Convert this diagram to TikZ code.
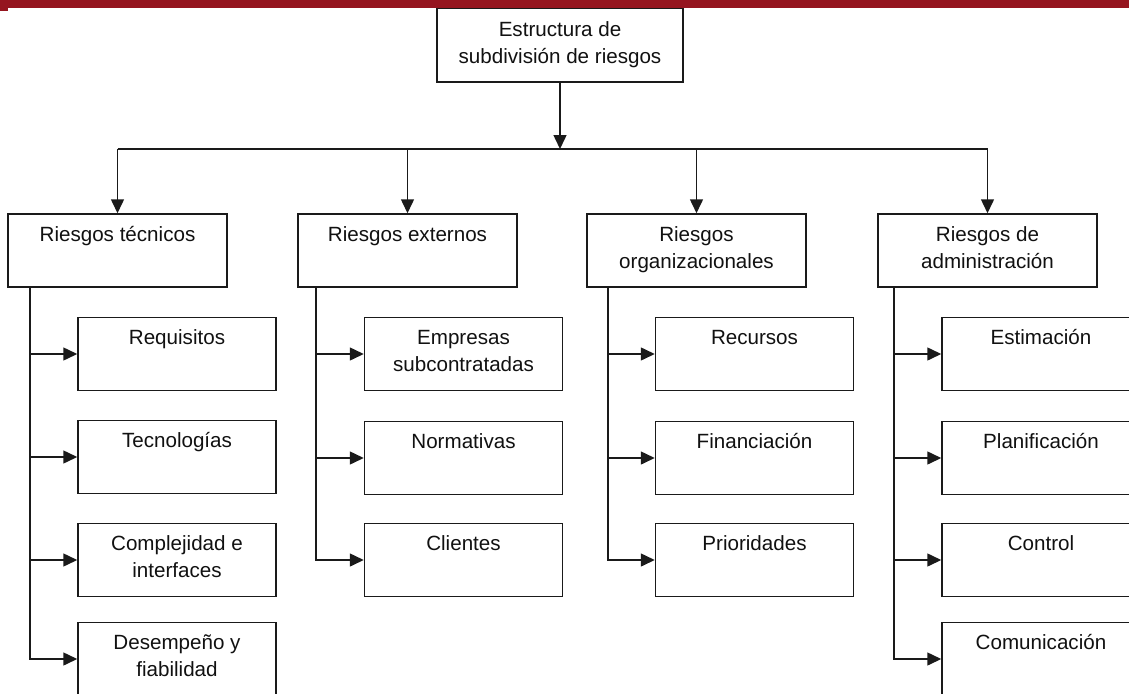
\documentclass[tikz,border=0pt]{standalone}
\usepackage{fontspec}
\setmainfont{Liberation Sans}
\usetikzlibrary{arrows.meta,calc}
\definecolor{band}{HTML}{95151F}
\definecolor{linec}{HTML}{1A1A1A}
\definecolor{txtc}{HTML}{111111}
\newcommand{\ml}[1]{\begin{tabular}[t]{@{}c@{}}#1\end{tabular}}
\begin{document}
\begin{tikzpicture}[x=1pt,y=-1pt,
  box/.style={draw=linec, line width=1.5pt, rectangle, inner sep=0pt, minimum height=73pt},
  lone/.style={box, minimum width=219pt},
  ltwo/.style={box, minimum width=198pt},
  lbl/.style={anchor=base, inner sep=0pt, font=\fontsize{20.6}{27}\selectfont, text=txtc},
  arr/.style={draw=linec, line width=1.5pt, -{Triangle[length=14pt,width=13pt]}},
  ln/.style={draw=linec, line width=1.5pt}]
\useasboundingbox (0,0) rectangle (1129,693);
\clip (0,0) rectangle (1129,693);
\fill[white] (0,0) rectangle (1129,693);

% root
\node[box, minimum width=246pt, minimum height=74pt] (root) at (560,45) {};
\node[lbl] (root-t) at ($(root.north)+(0,29)$) {\ml{Estructura de\\subdivisión de riesgos}};

% level 1
\node[lone] (rt) at (117.5,250.5) {};
\node[lone] (re) at (407.5,250.5) {};
\node[lone] (ro) at (696.5,250.5) {};
\node[lone] (ra) at (987.5,250.5) {};
\node[lbl] (rt-t) at ($(rt.north)+(0,28)$) {\ml{Riesgos técnicos}};
\node[lbl] (re-t) at ($(re.north)+(0,28)$) {\ml{Riesgos externos}};
\node[lbl] (ro-t) at ($(ro.north)+(0,28)$) {\ml{Riesgos\\organizacionales}};
\node[lbl] (ra-t) at ($(ra.north)+(0,28)$) {\ml{Riesgos de\\administración}};

% column 1
\node[ltwo] (a1) at (177,354) {};
\node[ltwo] (a2) at (177,457) {};
\node[ltwo] (a3) at (177,560) {};
\node[ltwo] (a4) at (177,659) {};
\node[lbl] (a1-t) at ($(a1.north)+(0,28)$) {\ml{Requisitos}};
\node[lbl] (a2-t) at ($(a2.north)+(0,28)$) {\ml{Tecnologías}};
\node[lbl] (a3-t) at ($(a3.north)+(0,28)$) {\ml{Complejidad e\\interfaces}};
\node[lbl] (a4-t) at ($(a4.north)+(0,28)$) {\ml{Desempeño y\\fiabilidad}};

% column 2
\node[ltwo] (b1) at (463.5,354) {};
\node[ltwo] (b2) at (463.5,458) {};
\node[ltwo] (b3) at (463.5,560) {};
\node[lbl] (b1-t) at ($(b1.north)+(0,28)$) {\ml{Empresas\\subcontratadas}};
\node[lbl] (b2-t) at ($(b2.north)+(0,28)$) {\ml{Normativas}};
\node[lbl] (b3-t) at ($(b3.north)+(0,28)$) {\ml{Clientes}};

% column 3
\node[ltwo] (c1) at (754.5,354) {};
\node[ltwo] (c2) at (754.5,458) {};
\node[ltwo] (c3) at (754.5,560) {};
\node[lbl] (c1-t) at ($(c1.north)+(0,28)$) {\ml{Recursos}};
\node[lbl] (c2-t) at ($(c2.north)+(0,28)$) {\ml{Financiación}};
\node[lbl] (c3-t) at ($(c3.north)+(0,28)$) {\ml{Prioridades}};

% column 4
\node[ltwo] (d1) at (1041,354) {};
\node[ltwo] (d2) at (1041,458) {};
\node[ltwo] (d3) at (1041,560) {};
\node[ltwo] (d4) at (1041,659) {};
\node[lbl] (d1-t) at ($(d1.north)+(0,28)$) {\ml{Estimación}};
\node[lbl] (d2-t) at ($(d2.north)+(0,28)$) {\ml{Planificación}};
\node[lbl] (d3-t) at ($(d3.north)+(0,28)$) {\ml{Control}};
\node[lbl] (d4-t) at ($(d4.north)+(0,28)$) {\ml{Comunicación}};

% bus and spines
\coordinate (bus) at (0,149);
\coordinate (s1) at (30,287);
\coordinate (s2) at (316,287);
\coordinate (s3) at (608,287);
\coordinate (s4) at (894,287);

\draw[arr] (root.south) -- (root.south |- bus);
\draw[ln] (rt.north |- bus) -- (ra.north |- bus);
\foreach \n in {rt,re,ro,ra} {\draw[arr] (\n.north |- bus) -- (\n.north);}

\foreach \n in {a1,a2,a3,a4} {\draw[arr] (rt.south -| s1) |- (\n.west);}
\foreach \n in {b1,b2,b3} {\draw[arr] (re.south -| s2) |- (\n.west);}
\foreach \n in {c1,c2,c3} {\draw[arr] (ro.south -| s3) |- (\n.west);}
\foreach \n in {d1,d2,d3,d4} {\draw[arr] (ra.south -| s4) |- (\n.west);}

% top band
\fill[band] (0,0) rectangle (1129,8);
\fill[band] (0,8) rectangle (8,11.5);
\end{tikzpicture}
\end{document}
